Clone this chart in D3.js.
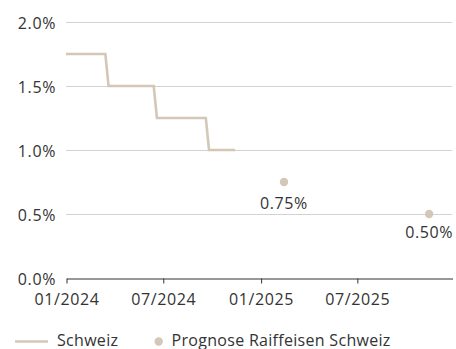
<!DOCTYPE html>
<html>
<head>
<meta charset="utf-8">
<script src="https://cdn.jsdelivr.net/npm/d3@7"></script>
<style>
  html, body { margin: 0; padding: 0; background: #fff; }
  svg { display: block; font-family: "Open Sans", "Noto Sans", sans-serif; }
</style>
</head>
<body>
<svg id="chart" width="456" height="349"></svg>
<script>
// SNB policy rate (step series) and Raiffeisen forecast points
const rateDates = ["2024-01-01", "2024-03-15", "2024-03-21", "2024-06-14", "2024-06-20",
                   "2024-09-20", "2024-09-26", "2024-11-14"];
const rateValues = [1.75, 1.75, 1.50, 1.50, 1.25, 1.25, 1.00, 1.00];

const forecastDates = ["2025-02-14", "2025-11-14"];
const forecastValues = [0.75, 0.50];

const yTicks = [0, 0.5, 1.0, 1.5, 2.0];
const xTicks = ["2024-01-01", "2024-07-01", "2025-01-01", "2025-07-01"];

const seriesNames = ["Schweiz", "Prognose Raiffeisen Schweiz"];

const parse = d3.utcParse("%Y-%m-%d");
const lineColor = "#d3c8b8";
const textColor = "#333";

const svg = d3.select("#chart");
const plotLeft = 66, plotRight = 452, plotTop = 22, plotBottom = 278;

const x = d3.scaleUtc()
  .domain([parse("2024-01-01"), parse("2025-12-27")])
  .range([plotLeft, plotRight]);
const y = d3.scaleLinear().domain([0, 2]).range([plotBottom, plotTop]);

// horizontal gridlines
svg.append("g")
  .selectAll("line")
  .data(yTicks.filter(d => d > 0))
  .join("line")
  .attr("x1", plotLeft).attr("x2", plotRight)
  .attr("y1", d => Math.round(y(d)) + 0.5)
  .attr("y2", d => Math.round(y(d)) + 0.5)
  .attr("stroke", "#d2d2d2")
  .attr("stroke-width", 1);

// y labels
svg.append("g")
  .selectAll("text")
  .data(yTicks)
  .join("text")
  .attr("x", 56)
  .attr("y", d => y(d) + 7)
  .attr("text-anchor", "end")
  .attr("fill", textColor)
  .attr("font-size", 16)
  .attr("letter-spacing", 0.6)
  .text(d => d3.format(".1f")(d) + "%");

// x axis
const xAxis = d3.axisBottom(x)
  .tickValues(xTicks.map(parse))
  .tickFormat(d3.utcFormat("%m/%Y"))
  .tickSize(5)
  .tickSizeOuter(0);

const gx = svg.append("g")
  .attr("transform", `translate(0.5,${plotBottom + 0.5})`)
  .call(xAxis);
gx.select(".domain").attr("stroke", "#333");
gx.selectAll(".tick line").attr("stroke", "#333");
gx.selectAll(".tick text")
  .attr("fill", textColor)
  .attr("font-size", 16)
  .attr("font-family", "Open Sans, Noto Sans, sans-serif")
  .attr("letter-spacing", 0.6)
  .attr("dy", null)
  .attr("y", 26);

// policy rate line
const rateData = rateDates.map((d, i) => ({ date: parse(d), value: rateValues[i] }));
svg.append("path")
  .datum(rateData)
  .attr("fill", "none")
  .attr("stroke", lineColor)
  .attr("stroke-width", 2.6)
  .attr("d", d3.line().x(d => x(d.date)).y(d => y(d.value)));

// forecast points and their labels
const forecastData = forecastDates.map((d, i) => ({ date: parse(d), value: forecastValues[i] }));
svg.append("g")
  .selectAll("circle")
  .data(forecastData)
  .join("circle")
  .attr("cx", d => x(d.date))
  .attr("cy", d => y(d.value))
  .attr("r", 4.2)
  .attr("fill", lineColor);

svg.append("g")
  .selectAll("text")
  .data(forecastData)
  .join("text")
  .attr("x", d => x(d.date))
  .attr("y", (d, i) => y(d.value) + (i === 0 ? 26.5 : 23.5))
  .attr("text-anchor", "middle")
  .attr("fill", textColor)
  .attr("font-size", 16)
  .attr("letter-spacing", 0.6)
  .text(d => d3.format(".2f")(d.value) + "%");

// legend
const legendY = 341.5;
const legend = svg.append("g");
legend.append("line")
  .attr("x1", 15).attr("x2", 48)
  .attr("y1", legendY).attr("y2", legendY)
  .attr("stroke", lineColor)
  .attr("stroke-width", 2.6);
legend.append("text")
  .attr("x", 57).attr("y", 346)
  .attr("fill", textColor)
  .attr("font-size", 16)
  .attr("letter-spacing", 0.3)
  .text(seriesNames[0]);
legend.append("circle")
  .attr("cx", 158.7).attr("cy", legendY)
  .attr("r", 4.2)
  .attr("fill", lineColor);
legend.append("text")
  .attr("x", 171.5).attr("y", 346)
  .attr("fill", textColor)
  .attr("font-size", 16)
  .attr("letter-spacing", 0.3)
  .text(seriesNames[1]);
</script>
</body>
</html>
